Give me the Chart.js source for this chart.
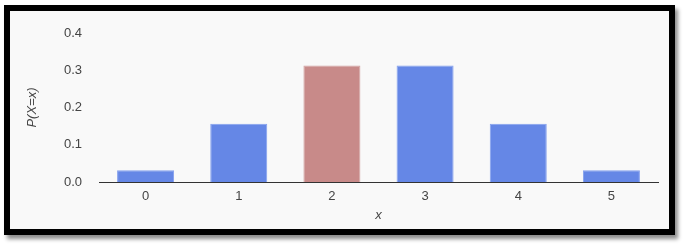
<!DOCTYPE html>
<html>
<head>
<meta charset="utf-8">
<script src="https://cdn.jsdelivr.net/npm/chart.js@4/dist/chart.umd.min.js"></script>
<style>
  html, body { margin: 0; padding: 0; background: #ffffff; width: 686px; height: 248px; overflow: hidden; }
  #frame {
    position: absolute; left: 4px; top: 5px; width: 659px; height: 218px;
    border: 6px solid #000; background: #f9f9f9;
    box-shadow: 3px 4px 4px rgba(0,0,0,0.45);
  }
  #wrap { position: absolute; left: 0; top: 0; width: 686px; height: 248px; }
</style>
</head>
<body>
<div id="frame"></div>
<div id="wrap"><canvas id="chart" width="686" height="248"></canvas></div>
<script>
// Binomial distribution, n = 5, p = 0.5
const categories = ['0', '1', '2', '3', '4', '5'];
const probabilities = [0.03125, 0.15625, 0.3125, 0.3125, 0.15625, 0.03125];
const highlighted = ['2'];
const yTicks = [0, 0.1, 0.2, 0.3, 0.4];

const blue = '#6587e6';
const red = '#c88a89';
const textColor = '#444444';
const font = { family: '"Liberation Sans", Arial, sans-serif', size: 13 };

new Chart(document.getElementById('chart'), {
  type: 'bar',
  data: {
    labels: categories,
    datasets: [{
      data: probabilities,
      backgroundColor: categories.map(c => highlighted.includes(c) ? red : blue),
      borderColor: categories.map(c => highlighted.includes(c) ? '#d3a3a2' : '#84a0ee'),
      borderWidth: 1,
      borderSkipped: 'start',
      barPercentage: 0.612,
      categoryPercentage: 1
    }]
  },
  options: {
    responsive: false,
    animation: false,
    devicePixelRatio: 1,
    layout: { padding: { left: 21, right: 28, top: 33, bottom: 21 } },
    plugins: { legend: { display: false }, tooltip: { enabled: false } },
    scales: {
      x: {
        grid: { display: false, drawTicks: false },
        border: { display: true, color: '#333333', width: 1 },
        ticks: { color: textColor, font: font, padding: 7 },
        title: { display: true, text: 'x', color: textColor, font: { ...font, style: 'italic' }, padding: { top: 4, bottom: 4 } },
        afterFit: s => { s.height = 45; }
      },
      y: {
        min: 0, max: 0.4,
        grid: { display: false, drawTicks: false },
        border: { display: false },
        afterBuildTicks: s => { s.ticks = yTicks.map(v => ({ value: v })); },
        ticks: { color: textColor, font: font, padding: 17, callback: v => Number(v).toFixed(1) },
        title: { display: true, text: 'P(X=x)', color: textColor, font: { ...font, style: 'italic' }, padding: { top: 4, bottom: 4 } },
        afterFit: s => { s.width = 78; }
      }
    }
  }
});
</script>
</body>
</html>
